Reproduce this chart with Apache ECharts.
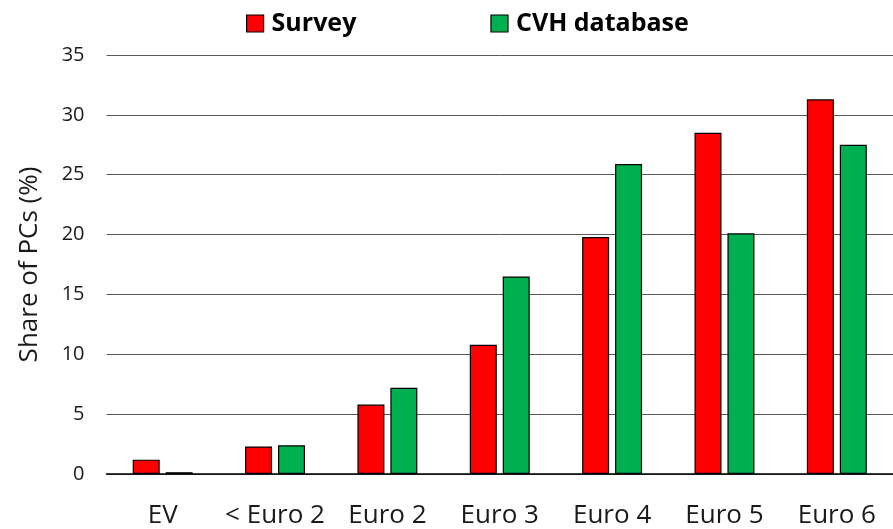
<!DOCTYPE html>
<html>
<head>
<meta charset="utf-8">
<script src="https://cdn.jsdelivr.net/npm/echarts@6/dist/echarts.min.js"></script>
<style>html,body{margin:0;padding:0;background:#fff;}#chart{width:893px;height:529px;}</style>
</head>
<body>
<div id="chart"></div>
<script>
const categories = ['EV', '< Euro 2', 'Euro 2', 'Euro 3', 'Euro 4', 'Euro 5', 'Euro 6'];
const survey = [1.2, 2.3, 5.8, 10.8, 19.8, 28.5, 31.3];
const cvh = [0.15, 2.4, 7.2, 16.5, 25.9, 20.1, 27.5];
const yTicks = { min: 0, max: 35, interval: 5 };

const chart = echarts.init(document.getElementById('chart'));
const font = 'Open Sans';
chart.setOption({
  animation: false,
  backgroundColor: '#fff',
  legend: {
    top: 6,
    left: 241,
    icon: 'rect',
    itemWidth: 17,
    itemHeight: 17,
    itemGap: 134,
    itemStyle: { borderColor: '#000', borderWidth: 1.2 },
    textStyle: { fontFamily: font, fontWeight: 'bold', fontSize: 25, color: '#000', padding: [0, 0, 0, 3] },
    data: ['Survey', 'CVH database']
  },
  grid: { left: 106.5, top: 55, width: 800, bottom: 55, containLabel: false },
  xAxis: {
    type: 'category',
    data: categories,
    axisLine: { lineStyle: { color: '#000', width: 1.5 } },
    axisTick: { show: false },
    axisLabel: { fontFamily: font, fontSize: 26, color: '#1a1a1a', margin: 29, interval: 0 }
  },
  yAxis: {
    type: 'value',
    min: yTicks.min, max: yTicks.max, interval: yTicks.interval,
    name: 'Share of PCs (%)',
    nameLocation: 'middle',
    nameGap: 64,
    nameTextStyle: { fontFamily: font, fontSize: 26, color: '#1a1a1a' },
    axisLine: { show: false },
    axisTick: { show: false },
    axisLabel: { fontFamily: font, fontSize: 20, color: '#1a1a1a', margin: 22 },
    splitLine: { lineStyle: { color: '#5a5a5a', width: 1 } }
  },
  series: [
    {
      name: 'Survey', type: 'bar', data: survey, barWidth: 27, barGap: '22%',
      itemStyle: { color: '#ff0000', borderColor: '#000', borderWidth: 1.2 }
    },
    {
      name: 'CVH database', type: 'bar', data: cvh, barWidth: 27,
      itemStyle: { color: '#00b050', borderColor: '#000', borderWidth: 1.2 }
    }
  ]
});
</script>
</body>
</html>
